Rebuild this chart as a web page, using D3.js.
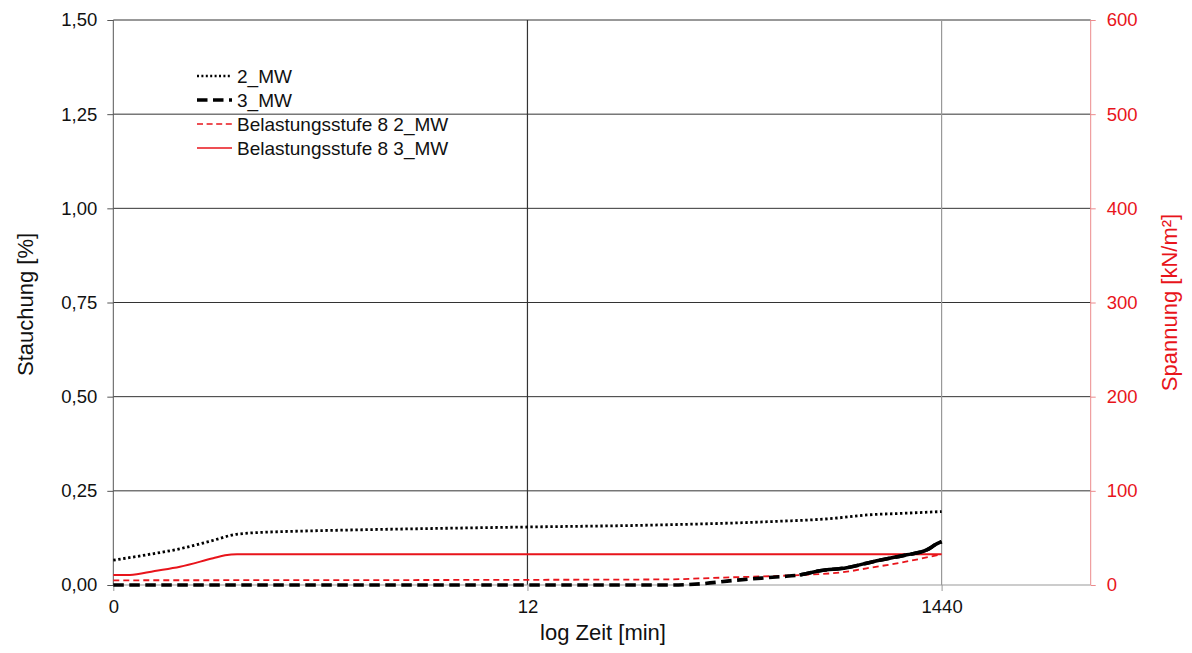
<!DOCTYPE html>
<html><head><meta charset="utf-8">
<script src="https://cdn.jsdelivr.net/npm/d3@7"></script>
<style>
body{margin:0;background:#fff}
svg{display:block}
text{font-family:"Liberation Sans",Arial,sans-serif}
</style>
</head><body>
<svg id="chart" width="1192" height="653"></svg>
<script>
// ---------- data ----------
const xTickValues = [0, 1, 2];           // positions on the log time axis
const xTickLabels = ["0", "12", "1440"]; // minutes
const xMax = 2.36;
const leftTicks = [0, 0.25, 0.5, 0.75, 1.0, 1.25, 1.5];
const rightTicks = [0, 100, 200, 300, 400, 500, 600];
const seriesNames = ["2_MW", "3_MW", "Belastungsstufe 8 2_MW", "Belastungsstufe 8 3_MW"];

// Stauchung [%] (left axis)
const mw2X = [0, 0.08, 0.16, 0.23, 0.30, 0.40, 0.45, 0.77, 1.00, 1.30, 1.58, 1.74, 1.82, 1.90, 2.00];
const mw2Y = [0.066, 0.080, 0.096, 0.115, 0.135, 0.1415, 0.143, 0.150, 0.154, 0.159, 0.168, 0.177, 0.186, 0.190, 0.195];

const mw3X = [0, 0.5, 1.0, 1.35, 1.416, 1.496, 1.609, 1.657, 1.706, 1.771, 1.834, 1.916, 1.964, 1.988, 2.00];
const mw3Y = [0, 0, 0, 0, 0.003, 0.012, 0.022, 0.0265, 0.038, 0.046, 0.062, 0.080, 0.093, 0.109, 0.115];

// Spannung [kN/m²] (right axis)
const bel2X = [0, 1.0, 1.35, 1.416, 1.496, 1.657, 1.771, 1.819, 1.892, 2.00];
const bel2Y = [5, 5.5, 6, 7, 8.2, 10.6, 14.1, 17.7, 23, 32.6];

const bel3X = [0, 0.04, 0.10, 0.161, 0.241, 0.27, 0.299, 1.0, 2.00];
const bel3Y = [10.6, 10.6, 14.9, 19.4, 28.4, 31.5, 32.6, 32.6, 32.6];

// ---------- layout ----------
const X0 = 113.3, X1 = 1090.7, Y0 = 585, Y1 = 20;
const red = "#e8141b";
const svg = d3.select("#chart");

const x = d3.scaleLinear().domain([0, xMax]).range([X0, X1]);
const yL = d3.scaleLinear().domain([0, 1.5]).range([Y0, Y1]);
const yR = d3.scaleLinear().domain([0, 600]).range([Y0, Y1]);

// horizontal gridlines
svg.append("g").selectAll("line").data(leftTicks.filter(d => d > 0)).join("line")
  .attr("x1", X0).attr("x2", X1)
  .attr("y1", d => yL(d)).attr("y2", d => yL(d))
  .attr("stroke", "#333").attr("stroke-width", 1);

// vertical gridlines
svg.append("g").selectAll("line").data(xTickValues.filter(d => d > 0)).join("line")
  .attr("x1", d => x(d)).attr("x2", d => x(d))
  .attr("y1", Y1).attr("y2", Y0)
  .attr("stroke", (d, i) => i === 0 ? "#333" : "#999").attr("stroke-width", 1.2);

// bottom axis
const gx = svg.append("g").attr("transform", `translate(0,${Y0})`)
  .call(d3.axisBottom(x).tickValues(xTickValues).tickSize(6).tickPadding(9)
    .tickFormat((d, i) => xTickLabels[i]));
gx.select(".domain").attr("stroke", "#999").attr("d", `M${X0},0H${X1}`);
gx.selectAll(".tick line").attr("stroke", "#999");
gx.selectAll(".tick text").attr("font-size", 18.5).attr("fill", "#111")
  .attr("font-family", "'Liberation Sans', Arial, sans-serif");

// left axis
const gl = svg.append("g").attr("transform", `translate(${X0},0)`)
  .call(d3.axisLeft(yL).tickValues(leftTicks).tickSize(6).tickPadding(10)
    .tickFormat(d => d3.format(".2f")(d).replace(".", ",")));
gl.select(".domain").attr("stroke", "#555").attr("d", `M0,${Y1}V${Y0}`);
gl.selectAll(".tick line").attr("stroke", "#555");
gl.selectAll(".tick text").attr("font-size", 18.5).attr("fill", "#111")
  .attr("font-family", "'Liberation Sans', Arial, sans-serif");

// right axis
const gr = svg.append("g").attr("transform", `translate(${X1},0)`)
  .call(d3.axisRight(yR).tickValues(rightTicks).tickSize(5).tickPadding(11));
gr.select(".domain").attr("stroke", "#ec8a8c").attr("d", `M0,${Y1}V${Y0}`);
gr.selectAll(".tick line").attr("stroke", "#ec8a8c");
gr.selectAll(".tick text").attr("font-size", 18.5).attr("fill", red)
  .attr("font-family", "'Liberation Sans', Arial, sans-serif");

// axis titles
svg.append("text").attr("transform", `translate(33,${(Y0 + Y1) / 2 + 2}) rotate(-90)`)
  .attr("text-anchor", "middle").attr("font-size", 22).attr("fill", "#111").text("Stauchung [%]");
svg.append("text").attr("transform", `translate(1177,${(Y0 + Y1) / 2}) rotate(-90)`)
  .attr("text-anchor", "middle").attr("font-size", 22).attr("fill", red).text("Spannung [kN/m²]");
svg.append("text").attr("x", (X0 + X1) / 2 + 1).attr("y", 640)
  .attr("text-anchor", "middle").attr("font-size", 22).attr("fill", "#111").text("log Zeit [min]");

// ---------- series ----------
const lineL = d3.line().x(d => x(d[0])).y(d => yL(d[1])).curve(d3.curveMonotoneX);
const lineR = d3.line().x(d => x(d[0])).y(d => yR(d[1])).curve(d3.curveMonotoneX);
const zip = (a, b) => a.map((v, i) => [v, b[i]]);

const styles = [
  {color: "#000", width: 2.8, dash: "2.4,2.6"},
  {color: "#000", width: 3.6, dash: "10.5,5.5"},
  {color: red, width: 1.8, dash: "6,4"},
  {color: red, width: 2, dash: null}
];

const gS = svg.append("g");
gS.append("path").datum(zip(bel2X, bel2Y)).attr("d", lineR).attr("fill", "none")
  .attr("stroke", styles[2].color).attr("stroke-width", styles[2].width).attr("stroke-dasharray", styles[2].dash);
gS.append("path").datum(zip(bel3X, bel3Y)).attr("d", lineR).attr("fill", "none")
  .attr("stroke", styles[3].color).attr("stroke-width", styles[3].width);
gS.append("path").datum(zip(mw2X, mw2Y)).attr("d", lineL).attr("fill", "none")
  .attr("stroke", styles[0].color).attr("stroke-width", styles[0].width).attr("stroke-dasharray", styles[0].dash);
const mw3 = zip(mw3X, mw3Y);
gS.append("path").datum(mw3).attr("d", lineL).attr("fill", "none")
  .attr("stroke", styles[1].color).attr("stroke-width", styles[1].width).attr("stroke-dasharray", styles[1].dash);
// dense measurement section of 3_MW appears continuous
gS.append("path").datum(mw3.filter(d => d[0] >= 1.65)).attr("d", lineL).attr("fill", "none")
  .attr("stroke", styles[1].color).attr("stroke-width", styles[1].width);

// ---------- legend ----------
const lg = svg.append("g");
seriesNames.forEach((name, i) => {
  const yy = 76 + 24 * i;
  lg.append("line").attr("x1", 197).attr("x2", 232).attr("y1", yy).attr("y2", yy)
    .attr("stroke", styles[i].color).attr("stroke-width", i === 1 ? 3.4 : (i === 0 ? 2.6 : 1.6))
    .attr("stroke-dasharray", i === 0 ? "2,2.4" : (i === 2 ? "6,3.6" : styles[i].dash));
  lg.append("text").attr("x", 237).attr("y", yy).attr("dy", "0.35em")
    .attr("font-size", 19).attr("fill", "#111").text(name);
});
</script>
</body></html>
